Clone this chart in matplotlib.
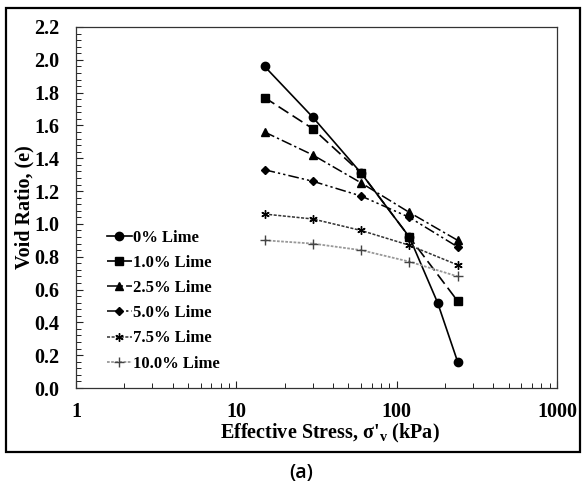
"""Void ratio vs effective stress for lime-treated soil (e-log p curves)."""

import matplotlib
matplotlib.use("Agg")
import matplotlib.pyplot as plt
from matplotlib.patches import Rectangle
from matplotlib.ticker import MultipleLocator, LogLocator, FixedFormatter, FixedLocator

plt.rcParams["font.family"] = ["Liberation Serif", "DejaVu Serif"]
plt.rcParams["font.weight"] = "bold"
plt.rcParams["mathtext.fontset"] = "custom"
plt.rcParams["mathtext.rm"] = "Liberation Serif:bold"
plt.rcParams["mathtext.it"] = "Liberation Serif:bold"
plt.rcParams["mathtext.bf"] = "Liberation Serif:bold"

# stress steps (kPa)
stress_0 = [15, 30, 60, 120, 180, 240]
stress = [15, 30, 60, 120, 240]

# void ratio per lime content
e_0 = [1.96, 1.65, 1.31, 0.92, 0.52, 0.16]
e_10 = [1.77, 1.58, 1.31, 0.92, 0.53]
e_25 = [1.56, 1.42, 1.25, 1.07, 0.90]
e_50 = [1.33, 1.26, 1.17, 1.04, 0.86]
e_75 = [1.06, 1.03, 0.96, 0.87, 0.75]
e_100 = [0.90, 0.88, 0.84, 0.77, 0.68]

labels = ["0% Lime", "1.0% Lime", "2.5% Lime", "5.0% Lime", "7.5% Lime", "10.0% Lime"]
x_ticks = [1, 10, 100, 1000]


def main():
    fig = plt.figure(figsize=(5.84, 4.86), dpi=100)
    fig.patches.append(Rectangle((6 / 584, 1 - 452 / 486), 574 / 584, 444 / 486,
                                 transform=fig.transFigure, fill=False,
                                 edgecolor="black", linewidth=1.6))
    ax = fig.add_axes([76 / 584, 1 - 388 / 486, 481 / 584, 361 / 486])

    series = [
        (stress_0, e_0, "-", "o", 6, "black", 1.2),
        (stress, e_10, (0, (7, 3)), "s", 6, "black", 1.2),
        (stress, e_25, (0, (7, 2, 1.5, 2)), "^", 6, "black", 1.1),
        (stress, e_50, (0, (7, 2, 1.5, 2, 1.5, 2)), "D", 4.5, "black", 1.1),
        (stress, e_75, (0, (2, 1)), (6, 2, 0), 6, "#333333", 1.1),
        (stress, e_100, (0, (1.5, 0.8)), "+", 7, "#999999", 1.3),
    ]
    for (xs, ys, ls, mk, ms, col, lw), lab in zip(series, labels):
        mec = "black" if mk != "+" else "#444444"
        ax.plot(xs, ys, linestyle=ls, color=col, linewidth=lw, marker=mk,
                markersize=ms, markerfacecolor="black", markeredgecolor=mec,
                markeredgewidth=1.0, label=lab)

    ax.set_xscale("log")
    ax.set_xlim(1, 1000)
    ax.set_ylim(0, 2.2)
    ax.xaxis.set_major_locator(FixedLocator(x_ticks))
    ax.xaxis.set_major_formatter(FixedFormatter([str(t) for t in x_ticks]))
    ax.xaxis.set_minor_locator(LogLocator(base=10, subs=range(2, 10)))
    ax.yaxis.set_major_locator(MultipleLocator(0.2))
    ax.yaxis.set_minor_locator(MultipleLocator(0.04))
    ax.yaxis.set_major_formatter(plt.FuncFormatter(lambda v, p: f"{v:.1f}"))

    ax.tick_params(which="both", direction="in", colors="#222222",
                   labelcolor="black", labelsize=14.5)
    ax.tick_params(which="major", length=5, width=0.8)
    ax.tick_params(which="minor", length=3.5, width=0.7)
    ax.tick_params(axis="x", which="major", pad=10)
    ax.tick_params(axis="y", which="major", pad=12)
    for sp in ax.spines.values():
        sp.set_linewidth(0.9)
        sp.set_color("#333333")

    ax.set_xlabel("Effective Stress, σ'$_\\mathrm{v}$ (kPa)", fontsize=14.5,
                  fontweight="bold", labelpad=0)
    ax.xaxis.label.set_x(0.528)
    ax.set_ylabel("Void Ratio, (e)", fontsize=14.5, fontweight="bold", labelpad=0)

    ax.legend(loc="upper left", bbox_to_anchor=(95 / 584, 1 - 218 / 486),
              bbox_transform=fig.transFigure, frameon=False,
              handlelength=1.5, handletextpad=0.1, labelspacing=0.55,
              borderpad=0.2, prop={"weight": "bold", "size": 12})

    fig.text(301 / 584, 1 - 473 / 486, "(a)", ha="center", va="center",
             fontsize=14, family="Open Sans", fontweight="semibold")

    fig.savefig("out.png", dpi=100)


if __name__ == "__main__":
    main()
